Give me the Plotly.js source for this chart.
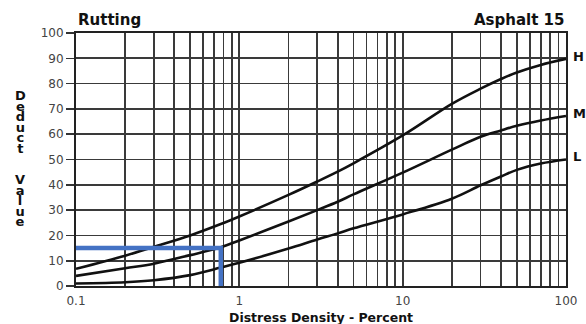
<!DOCTYPE html>
<html>
<head>
<meta charset="utf-8">
<script src="https://cdn.plot.ly/plotly-3.0.1.min.js"></script>
<style>html,body{margin:0;padding:0;background:#fff;}#chart{width:586px;height:324px;}</style>
</head>
<body>
<div id="chart"></div>
<script>
// Distress density (percent) sample points
const density = [0.1, 0.2, 0.3, 0.5, 0.77, 1, 2, 3, 4, 5, 10, 20, 30, 40, 50, 70, 100];
// Deduct values per severity
const highSeverity   = [6.8, 12, 15.5, 20, 24.5, 27.5, 36, 41.3, 45.2, 48.5, 59.5, 72, 78, 81.8, 84.4, 87.4, 89.8];
const mediumSeverity = [4, 7, 8.8, 12.2, 15.3, 18, 25.5, 30, 33.3, 36.2, 44.8, 53.9, 59, 61.5, 63.3, 65.4, 67.2];
const lowSeverity    = [1.0, 1.5, 2.3, 4.3, 7.3, 9.2, 14.8, 18.4, 20.8, 22.8, 28.3, 34.5, 39.8, 43.3, 45.9, 48.4, 50];
const severityLabels = ['H', 'M', 'L'];
// Example reading (blue guide line)
const exampleDensity = [0.1, 0.77, 0.77];
const exampleDeduct  = [15, 15, 0];
const yTickValues = [0, 10, 20, 30, 40, 50, 60, 70, 80, 90, 100];
const chartTitleLeft = 'Rutting';
const chartTitleRight = 'Asphalt 15';
const xTitle = 'Distress Density - Percent';
const yTitleWords = ['Deduct', 'Value'];

// log grid: every digit of each decade, labels only on decades
const xTickVals = [], xTickText = [];
[0.1, 1, 10].forEach(function (dec) {
  for (let d = 1; d <= 9; d++) {
    xTickVals.push(+(dec * d).toPrecision(3));
    xTickText.push(d === 1 ? String(+(dec).toPrecision(3)) : '');
  }
});
xTickVals.push(100); xTickText.push('100');

const curveLine = {color: '#111', width: 2.6, shape: 'spline', smoothing: 1};
const traces = [highSeverity, mediumSeverity, lowSeverity].map(function (ys) {
  return {x: density, y: ys, mode: 'lines', line: curveLine, hoverinfo: 'skip', showlegend: false};
});
traces.push({x: exampleDensity, y: exampleDeduct, mode: 'lines',
  line: {color: '#4472c4', width: 4.5}, showlegend: false, cliponaxis: false});

const bold = {family: 'DejaVu Sans', size: 15, color: '#111'};
const annotations = [
  {text: '<b>' + chartTitleLeft + '</b>', xref: 'paper', yref: 'paper', x: 0, y: 1,
   xanchor: 'left', yanchor: 'bottom', yshift: 2, showarrow: false, font: bold},
  {text: '<b>' + chartTitleRight + '</b>', xref: 'paper', yref: 'paper', x: 1, y: 1,
   xanchor: 'right', yanchor: 'bottom', yshift: 2, showarrow: false, font: bold},
  {text: '<b>' + xTitle + '</b>', xref: 'paper', yref: 'paper', x: 0.5, y: 0,
   xanchor: 'center', yanchor: 'top', yshift: -23, showarrow: false, borderpad: 0,
   font: {family: 'DejaVu Sans', size: 12.5, color: '#111'}}
];
const ends = [highSeverity, mediumSeverity, lowSeverity];
severityLabels.forEach(function (lab, i) {
  annotations.push({text: '<b>' + lab + '</b>', xref: 'x', yref: 'y',
    x: Math.log10(density[density.length - 1]), y: ends[i][ends[i].length - 1] + 1,
    xanchor: 'left', yanchor: 'middle', xshift: 5, showarrow: false,
    font: {family: 'DejaVu Sans', size: 13, color: '#111'}});
});
// stacked vertical y title: one annotation per word, letters on separate lines
const letterFont = 13;
const letterStepEm = 10.6 / letterFont;
const wordTops = [-54, -138];
yTitleWords.forEach(function (w, k) {
  annotations.push({text: w.split('').join('<br>'), xref: 'paper', yref: 'paper',
    x: 0, xshift: -56, y: 1, yshift: wordTops[k],
    xanchor: 'center', yanchor: 'top', align: 'center', showarrow: false, borderpad: 0,
    font: {family: 'DejaVu Sans', size: letterFont, color: '#111', weight: 'bold'}});
});

const grid = '#3a3a3a';
const layout = {
  width: 586, height: 324,
  margin: {l: 76, r: 20, t: 33, b: 38},
  paper_bgcolor: '#fff', plot_bgcolor: '#fff',
  xaxis: {type: 'log', range: [-1, 2], tickvals: xTickVals, ticktext: xTickText,
    showgrid: true, gridcolor: grid, gridwidth: 1.7, ticks: '', ticklabelstandoff: 3,
    showline: true, linecolor: '#222', linewidth: 2, mirror: true,
    tickfont: {family: 'DejaVu Sans', size: 12, color: '#444'}, zeroline: false},
  yaxis: {range: [0, 100], tickvals: yTickValues, showgrid: true, gridcolor: grid, gridwidth: 1.7,
    ticks: 'outside', ticklen: 8, tickwidth: 1.6, tickcolor: '#333',
    showline: true, linecolor: '#222', linewidth: 2, mirror: true, zeroline: false,
    tickfont: {family: 'DejaVu Sans', size: 12, color: '#444'}},
  annotations: annotations
};
Plotly.newPlot('chart', traces, layout, {staticPlot: true, displayModeBar: false}).then(function (gd) {
  // tighten the line spacing of the stacked letters to match the reference
  gd.querySelectorAll('text.annotation-text').forEach(function (t) {
    const raw = t.getAttribute('data-unformatted') || '';
    if (raw.indexOf('<br>') < 0) return;
    t.querySelectorAll('tspan.line').forEach(function (ts, i) {
      ts.setAttribute('dy', (i * letterStepEm) + 'em');
    });
  });
});
</script>
</body>
</html>
